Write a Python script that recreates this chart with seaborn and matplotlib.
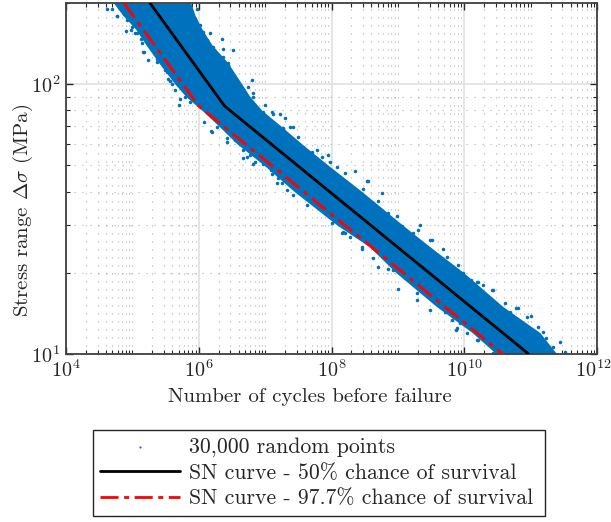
import numpy as np
import pandas as pd
import matplotlib
matplotlib.use("Agg")
import matplotlib.pyplot as plt
from matplotlib.ticker import FixedLocator, LogLocator, LogFormatterMathtext, NullFormatter
from matplotlib.transforms import ScaledTranslation
import seaborn as sns

# Dense part of the cloud: edges at fixed stress levels
cloud_stress = [200, 180, 160, 140, 120, 100, 90, 80, 70, 60, 50, 40, 30, 25, 20, 15, 12, 10]
cloud_low_cycles = [5.2e4, 7.2e4, 1.12e5, 1.6e5, 2.5e5, 4.4e5, 6.4e5, 1.12e6, 2.0e6,
                    3.8e6, 9.7e6, 2.75e7, 1.22e8, 3.7e8, 9.4e8, 3.8e9, 1.32e10, 3.05e10]
cloud_high_cycles = [7.6e5, 8.8e5, 1.12e6, 1.58e6, 2.75e6, 4.48e6, 5.9e6, 8.95e6, 1.73e7,
                     3.6e7, 9.0e7, 2.87e8, 1.19e9, 3.03e9, 9.86e9, 3.81e10, 1.38e11, 2.48e11]

# Individually visible outlying points (log10 cycles, log10 stress)
stray_log_cycles = [4.698, 4.763, 4.904, 4.979, 5.074, 5.165, 5.23, 5.265, 5.376, 5.516, 5.566,
                    5.707, 5.792, 6.179, 6.42, 6.721, 6.821, 7.097, 7.173, 7.323,
                    6.018, 6.169, 6.118, 6.52, 6.369, 6.445, 6.796, 6.746, 6.821, 7.097, 7.223,
                    7.424, 7.499, 7.775, 7.951,
                    8.754, 8.478, 8.543, 9.331, 9.482, 9.683, 9.909, 10.185, 10.436, 10.611,
                    10.787, 11.013, 11.189, 11.44, 11.515,
                    8.051, 8.177, 8.453, 8.854, 9.005, 9.281, 9.281, 9.482, 9.708, 9.873,
                    10.31, 10.436,
                    4.612, 4.773, 4.873, 4.914, 4.994, 5.039, 5.124, 5.18, 5.14, 5.365, 5.466,
                    5.491, 5.541, 5.642, 5.717, 5.827, 5.867, 5.591,
                    5.968, 5.943, 5.993, 6.219, 6.344, 6.294, 6.369, 6.445, 6.068, 6.244,
                    6.078, 6.194, 6.269, 6.42, 6.545, 6.671, 6.771, 6.846, 6.972, 7.082,
                    7.198, 7.248, 7.373, 7.424, 7.624, 6.671,
                    6.696, 6.821, 6.821, 6.997, 6.972, 7.122, 7.298, 7.373, 7.7, 7.85,
                    7.976, 8.076, 7.273,
                    8.202, 8.352, 8.528, 8.704, 8.854, 8.98, 9.055, 9.306, 9.507, 9.733,
                    8.629, 9.231,
                    8.001, 8.152, 8.202, 8.277, 8.463, 8.629, 8.704, 8.804, 8.93, 9.105,
                    9.984, 10.109, 10.21, 10.285, 10.411, 10.812, 10.938, 10.913, 11.113,
                    11.239, 11.339, 10.687,
                    9.808, 9.884, 9.934, 10.034, 10.185, 10.21, 10.335]
stray_log_stress = [2.280, 2.253, 2.198, 2.2, 2.191, 2.12, 2.091, 2.157, 2.083, 2.046, 2.011,
                    1.922, 1.953, 1.826, 1.786, 1.731, 1.706, 1.667, 1.635, 1.607,
                    2.219, 2.188, 2.163, 2.128, 2.132, 2.07, 2.015, 1.988, 1.953, 1.898, 1.891,
                    1.842, 1.805, 1.756, 1.737,
                    1.598, 1.61, 1.642, 1.48, 1.422, 1.391, 1.33, 1.268, 1.237, 1.188,
                    1.169, 1.141, 1.083, 1.046, 1.009,
                    1.499, 1.453, 1.391, 1.314, 1.24, 1.225, 1.2, 1.163, 1.157, 1.089,
                    1.052, 1.002,
                    2.28, 2.253, 2.262, 2.237, 2.212, 2.188, 2.169, 2.12, 2.151, 2.095, 2.07,
                    2.052, 2.021, 1.98, 1.947, 1.965, 1.935, 2.002,
                    2.28, 2.243, 2.188, 2.138, 2.169, 2.107, 2.101, 2.077, 2.194, 2.101,
                    1.86, 1.823, 1.842, 1.799, 1.793, 1.725, 1.737, 1.712, 1.704, 1.681,
                    1.651, 1.632, 1.626, 1.589, 1.552, 1.756,
                    1.968, 1.968, 1.928, 1.922, 1.898, 1.891, 1.873, 1.842, 1.749, 1.731,
                    1.712, 1.694, 1.836,
                    1.672, 1.678, 1.642, 1.568, 1.521, 1.511, 1.474, 1.459, 1.422, 1.358,
                    1.558, 1.447,
                    1.484, 1.447, 1.447, 1.435, 1.398, 1.354, 1.323, 1.354, 1.311, 1.28,
                    1.299, 1.274, 1.268, 1.256, 1.237, 1.169, 1.138, 1.107, 1.101,
                    1.058, 1.027, 1.157,
                    1.126, 1.095, 1.114, 1.077, 1.052, 1.052, 1.052]

curve_stress = [200, 83, 10]
curve_50_cycles = [1.84e5, 2.45e6, 9.33e10]
curve_977_cycles = [7.46e4, 1.0e6, 3.8e10]

labels = ["30,000 random points", "SN curve - 50% chance of survival",
          "SN curve - 97.7% chance of survival"]
x_major = [1e4, 1e6, 1e8, 1e10, 1e12]
y_major = [10, 100]

BLUE = "#0072BD"
DARK = "#262626"

sns.set_theme(style="ticks")
plt.rcParams.update({
    "font.family": ["cmr10"],
    "mathtext.fontset": "cm",
    "axes.formatter.use_mathtext": True,
    "axes.unicode_minus": False,
})

fig = plt.figure(figsize=(6.11, 5.22), dpi=100)
W, H = 611, 522
ax = fig.add_axes([66 / W, 1 - 354 / H, 531 / W, 351 / H])

ax.fill_betweenx(cloud_stress, cloud_low_cycles, cloud_high_cycles, color=BLUE, lw=0, zorder=2)
stray = pd.DataFrame({"n": 10 ** np.array(stray_log_cycles), "s": 10 ** np.array(stray_log_stress)})
sns.scatterplot(data=stray, x="n", y="s", ax=ax, color=BLUE, s=6.5, linewidth=0, zorder=2, label=labels[0])
sns.lineplot(x=curve_50_cycles, y=curve_stress, ax=ax, color="black", lw=2, sort=False,
             estimator=None, errorbar=None, zorder=4, label=labels[1])
sns.lineplot(x=curve_977_cycles, y=curve_stress, ax=ax, color="red", lw=2, sort=False,
             estimator=None, errorbar=None, zorder=3, linestyle=(0, (6.5, 2, 1.8, 2)), label=labels[2])

ax.set_xscale("log")
ax.set_yscale("log")
ax.set_xlim(1e4, 1e12)
ax.set_ylim(10, 200)
ax.xaxis.set_major_locator(FixedLocator(x_major))
ax.yaxis.set_major_locator(FixedLocator(y_major))
ax.xaxis.set_major_formatter(LogFormatterMathtext())
ax.yaxis.set_major_formatter(LogFormatterMathtext())
ax.xaxis.set_minor_locator(LogLocator(base=10, subs=np.arange(1, 10), numticks=20))
ax.yaxis.set_minor_locator(LogLocator(base=10, subs=np.arange(1, 10), numticks=20))
ax.xaxis.set_minor_formatter(NullFormatter())
ax.yaxis.set_minor_formatter(NullFormatter())

ax.grid(True, which="major", color="#e3e3e3", lw=1.3, zorder=0)
ax.grid(True, which="minor", color="#b0b0b0", lw=0.8, linestyle=(0, (1, 6.2)), zorder=0)
ax.set_axisbelow(True)
ax.tick_params(which="major", direction="in", length=5, width=1.0, top=True, right=True,
               colors=DARK, labelsize=14.5, pad=4)
ax.tick_params(which="minor", direction="in", length=2.8, width=0.8, top=True, right=True, colors=DARK)
for sp in ax.spines.values():
    sp.set_color("#404040")
    sp.set_linewidth(1.3)

# The last x label sits a little left of its tick so that it stays inside the figure
last = ax.get_xticklabels()[-1]
last.set_transform(last.get_transform() + ScaledTranslation(-3.5 / 100, 0, fig.dpi_scale_trans))

ax.set_xlabel("Number of cycles before failure", fontsize=15, color=DARK)
ax.set_ylabel(r"Stress range $\Delta\sigma$ (MPa)", fontsize=15, color=DARK)
ax.xaxis.set_label_coords(0.4595, -0.097)
ax.yaxis.set_label_coords(-0.0585, 0.41)

leg = ax.legend(loc="upper left", bbox_to_anchor=(93 / W, 1 - 430 / H, 452 / W, 0),
                bbox_transform=fig.transFigure, mode="expand",
                fontsize=15.7, frameon=True, fancybox=False, framealpha=1, edgecolor=DARK,
                borderaxespad=0, borderpad=0.33, labelspacing=0.28, handlelength=3.67, handletextpad=0.42,
                markerscale=0.6)
leg.get_frame().set_linewidth(1.0)
for t in leg.get_texts():
    t.set_color(DARK)

fig.savefig("out.png", dpi=100)
